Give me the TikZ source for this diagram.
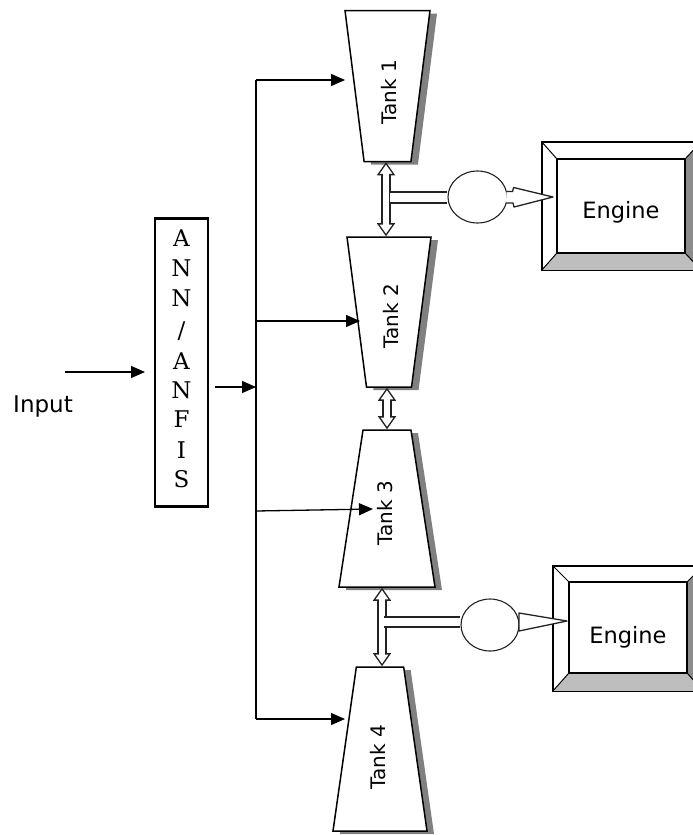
\documentclass[tikz,border=0pt]{standalone}
\usepackage{fontspec}
\setmainfont{DejaVu Sans}
\newfontfamily\slabfont{DejaVu Serif}
\usetikzlibrary{arrows.meta,positioning,calc,shapes.geometric,shadows}
\definecolor{linegrey}{HTML}{222222}
\definecolor{bevellow}{HTML}{BEBEBE}
\definecolor{bevelside}{HTML}{8C8C8C}
\definecolor{shadegrey}{HTML}{808080}
\tikzset{
  tank/.style={draw=black, fill=white, line width=1.5pt, trapezium, trapezium stretches body=true, inner sep=0pt,
    general shadow={fill=shadegrey, shadow xshift=7pt, shadow yshift=-3pt}},
  tanklabel/.style={rotate=90, font=\fontsize{20}{20}\selectfont},
  signal/.style={-{Triangle[length=14pt,width=12pt]}, line width=1.3pt, black},
  pipe/.style={double=white, double distance=6.5pt, line width=1.6pt, draw=linegrey},
  hollowlink/.style={pipe, {Triangle[length=13pt,width=18pt,fill=white,line width=1.3pt]}-{Triangle[length=13pt,width=18pt,fill=white,line width=1.3pt]}},
  linkgap/.style={white, line width=6.5pt, shorten >=11pt, shorten <=11pt},
  enginebox/.style={draw=black, line width=1.4pt, inner sep=0pt, fill=white},
  enginetext/.style={font=\fontsize{22.5}{22.5}\selectfont},
  pump/.style={draw=linegrey, ellipse, line width=1.1pt, inner sep=0pt, fill=white},
  nozzle/.style={draw=linegrey, line width=1.3pt, fill=white, line join=round}
}
\begin{document}
\begin{tikzpicture}[x=1pt,y=-1pt]
\useasboundingbox (0,0) rectangle (693,835);
\fill[white] (0,0) rectangle (693,835);

\node[font=\fontsize{23}{23}\selectfont] (input) at (43,407) {Input};
\coordinate (inputstart) at (65,372);
\node[draw=black, line width=2.6pt, minimum width=53pt, minimum height=288pt, inner sep=0pt] (ann) at (181.5,362.5) {};
\foreach \y/\ch [count=\i] in {238/A,268/N,298/N,331/{/},361/A,390/N,419/F,450/I,479/S}
  \node[font=\slabfont\fontsize{23}{23}\selectfont] (letter\i) at (181.5,\y) {\ch};
\draw[signal] (inputstart) -- (145,372);

\node[tank, shape border rotate=180, trapezium angle=82.8, minimum width=85pt] (tankA) at (387.5,86) {\rule{0pt}{151pt}};
\node[tank, shape border rotate=180, trapezium angle=82.6, minimum width=84pt] (tankB) at (389,312) {\rule{0pt}{150pt}};
\node[tank, trapezium angle=81.3, minimum width=96pt] (tankC) at (387,508.5) {\rule{0pt}{157pt}};
\node[tank, trapezium angle=81.9, minimum width=94pt] (tankD) at (380,749) {\rule{0pt}{164pt}};
\node[tanklabel] (labelA) at (389,92) {Tank 1};
\node[tanklabel] (labelB) at (391,316) {Tank 2};
\node[tanklabel] (labelC) at (385,513) {Tank 3};
\node[tanklabel] (labelD) at (378,757) {Tank 4};

% bus from the network to the tanks
\coordinate (bustop) at (256,80);
\coordinate (busbottom) at (256,719);
\coordinate (annout) at (215,387);
\draw[line width=1.3pt] (bustop) -- (busbottom);
\draw[signal] (annout) -- (annout -| bustop);
\draw[signal] (bustop) -- (345,80);
\draw[signal] (256,321) -- (360,321);
\draw[signal] (256,511) -- (373,509);
\draw[signal] (busbottom) -- (345,719);

% pipes between tanks
\coordinate (linkA) at (386,200);
\coordinate (linkB) at (387,408);
\coordinate (linkC) at (382,627);
\foreach \a/\b/\l in {tankA/tankB/linkA,tankB/tankC/linkB,tankC/tankD/linkC} {
  \draw[hollowlink] (\l |- \a.south) -- (\l |- \b.north);
  \draw[linkgap] (\l |- \a.south) -- (\l |- \b.north);
}

% engines
\node[draw=black, line width=1.4pt, fill=white, minimum width=159pt, minimum height=128pt, inner sep=0pt] (outerA) at (621.5,206) {};
\node[draw=black, line width=1.4pt, fill=white, minimum width=150pt, minimum height=125pt, inner sep=0pt] (outerB) at (628,628.5) {};
\node[enginebox, minimum width=128pt, minimum height=94pt] (engineA) at (621,206) {};
\node[enginebox, minimum width=118pt, minimum height=91pt] (engineB) at (628,627.5) {};
\foreach \o/\e in {outerA/engineA,outerB/engineB} {
  \fill[bevellow] (\o.south west) -- (\e.south west) -- (\e.south east) -- (\o.south east) -- cycle;
  \fill[bevelside] (\o.north east) -- (\e.north east) -- (\e.south east) -- (\o.south east) -- cycle;
  \draw[line width=1pt] (\o.north west) -- (\e.north west) (\o.south west) -- (\e.south west)
    (\o.north east) -- (\e.north east) (\o.south east) -- (\e.south east);
  \draw[line width=1.4pt] (\o.north west) rectangle (\o.south east);
  \draw[line width=1.4pt] (\e.north west) rectangle (\e.south east);
}
\node[enginetext] (textA) at (621,212) {Engine};
\node[enginetext] (textB) at (628,637) {Engine};

% pumps
\node[pump, minimum width=59pt, minimum height=52pt] (pumpA) at (477.5,197) {};
\node[pump, minimum width=58pt, minimum height=52pt] (pumpB) at (490,625) {};
\coordinate (teeA) at (390,197.5);
\coordinate (teeB) at (384,622);
\draw[line width=1.6pt, draw=linegrey, double=white, double distance=9pt] (teeA) -- (teeA -| pumpA.west);
\draw[line width=1.6pt, draw=linegrey, double=white, double distance=8.5pt] (teeB) -- (teeB -| pumpB.west);
\draw[nozzle] (pumpA.east) ++(-1,-5.5) -- ++(6,0) -- ++(1,-4) -- (553,197) -- (514,207) -- ++(-1,-4) -- ++(-7,0);
\draw[nozzle] (519,613) -- (567,621) -- (519,631) -- cycle;
\end{tikzpicture}
\end{document}
